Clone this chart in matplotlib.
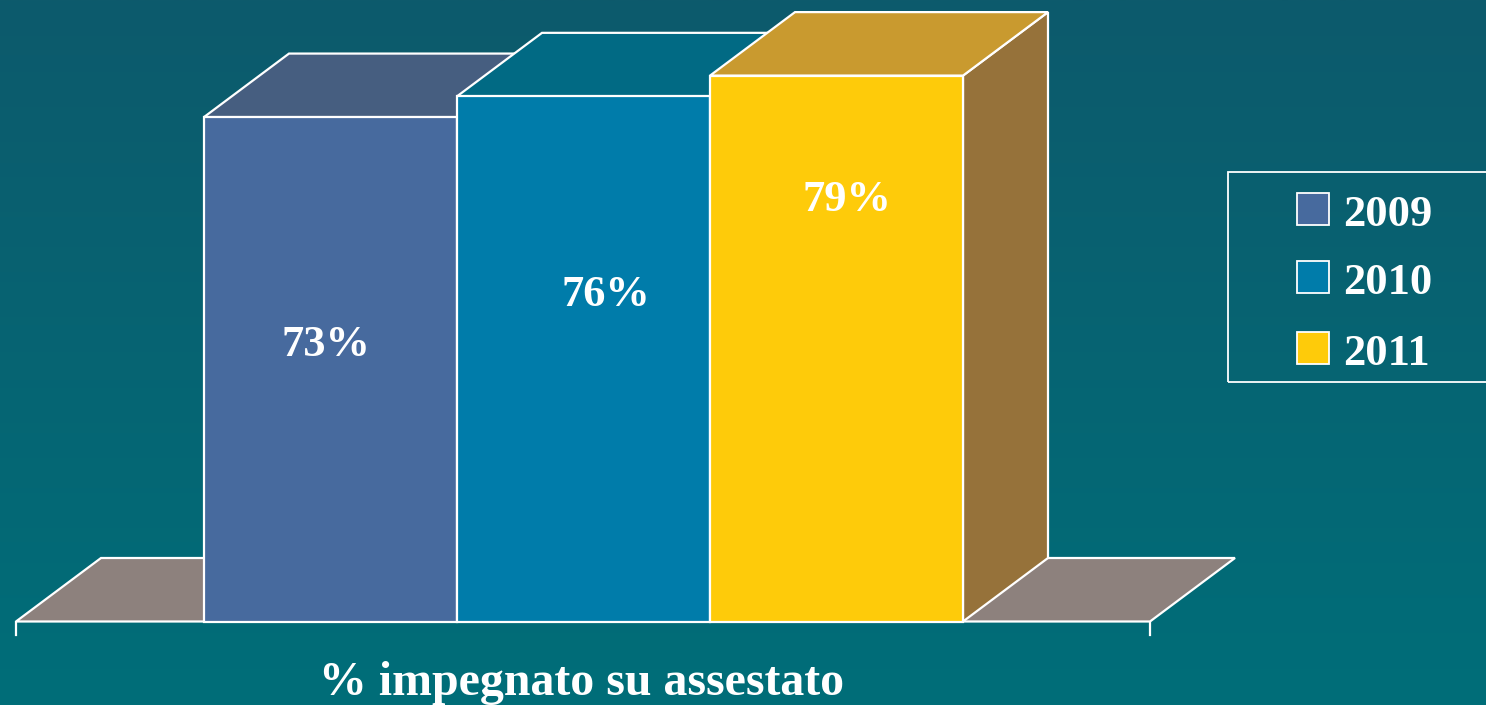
import matplotlib
matplotlib.use('Agg')
import matplotlib.pyplot as plt
import numpy as np
from matplotlib.patches import Polygon, Rectangle

# Dati
anni = ['2009', '2010', '2011']
valori = [73, 76, 79]
etichette = ['73%', '76%', '79%']
titolo = '% impegnato su assestato'

# Colori (fronte, cima, lato)
col_fronte = ['#476A9E', '#007CAA', '#FECB0A']
col_cima = ['#465E80', '#016A84', '#C99A2F']
col_lato = ['#3E5676', '#00607E', '#96723A']
col_pavimento = '#8D817D'

W, H = 1486, 705
fig = plt.figure(figsize=(W / 100, H / 100), dpi=100)
ax = fig.add_axes([0, 0, 1, 1])
ax.axis('off')

# scala: una barra = 1 unita in x, y in percento
x0_px, barra_px = 204, 253
zero_px, px_per_pct = 621.5, 6.91
ax.set_xlim(-x0_px / barra_px, (W - x0_px) / barra_px)
ax.set_ylim(-(H - zero_px) / px_per_pct, zero_px / px_per_pct)

# sfondo sfumato
grad = np.linspace(0, 1, 256).reshape(-1, 1)
cima = np.array([0x0D, 0x5A, 0x6C]) / 255
fondo = np.array([0x00, 0x6E, 0x79]) / 255
img = cima + (fondo - cima) * grad[..., None]
xl, yl = ax.get_xlim(), ax.get_ylim()
ax.imshow(img, extent=[xl[0], xl[1], yl[0], yl[1]], aspect='auto', zorder=0, origin='upper')

# profondita prospettica
dx = 85 / barra_px
dy = 63.5 / px_per_pct
lw = 1.6

# pavimento
fl, fr = (16 - x0_px) / barra_px, (1150 - x0_px) / barra_px
ax.add_patch(Polygon([(fl, 0), (fr, 0), (fr + dx, dy), (fl + dx, dy)], closed=True,
                     facecolor=col_pavimento, edgecolor='white', lw=lw, zorder=1))
# tacche asse
for xt in (fl, fr):
    ax.plot([xt, xt], [0, -13.5 / px_per_pct], color='white', lw=lw, zorder=1)

# barre 3D
for i, v in enumerate(valori):
    a, b = i, i + 1
    ax.add_patch(Polygon([(b, 0), (b + dx, dy), (b + dx, v + dy), (b, v)], closed=True,
                         facecolor=col_lato[i], edgecolor='white', lw=lw, zorder=2))
    ax.add_patch(Polygon([(a, v), (b, v), (b + dx, v + dy), (a + dx, v + dy)], closed=True,
                         facecolor=col_cima[i], edgecolor='white', lw=lw, zorder=2))
    ax.add_patch(Rectangle((a, 0), 1, v, facecolor=col_fronte[i], edgecolor='white',
                           lw=lw, zorder=2))

# etichette valori
etich_x = [0.482, 1.589, 2.541]
etich_y = [(zero_px - 356) / px_per_pct, (zero_px - 306) / px_per_pct, (zero_px - 211) / px_per_pct]
for i, t in enumerate(etichette):
    ax.text(etich_x[i], etich_y[i], t, color='white', fontsize=32, fontweight='bold',
            family='Liberation Serif', ha='center', va='baseline', zorder=3)

# titolo asse
ax.text((582 - x0_px) / barra_px, (zero_px - 695) / px_per_pct, titolo, color='white',
        fontsize=34.5, fontweight='bold', family='Liberation Serif', ha='center',
        va='baseline', zorder=3)

# legenda
def fx(px):
    return px / W

def fy(py):
    return 1 - py / H

fig.patches.append(Rectangle((fx(1228), fy(382)), fx(1500) - fx(1228), fy(172) - fy(382),
                             transform=fig.transFigure, facecolor='none', edgecolor='white',
                             lw=1.3, zorder=4))
leg_y = [209, 277, 348]
for i, anno in enumerate(anni):
    fig.patches.append(Rectangle((fx(1297), fy(leg_y[i] + 16)), fx(32), 32 / H,
                                 transform=fig.transFigure, facecolor=col_fronte[i],
                                 edgecolor='white', lw=1.3, zorder=4))
    fig.text(fx(1343), fy(leg_y[i] + 17), anno, color='white', fontsize=32,
             fontweight='bold', family='Liberation Serif', ha='left', va='baseline')

fig.savefig('out.png', dpi=100)
